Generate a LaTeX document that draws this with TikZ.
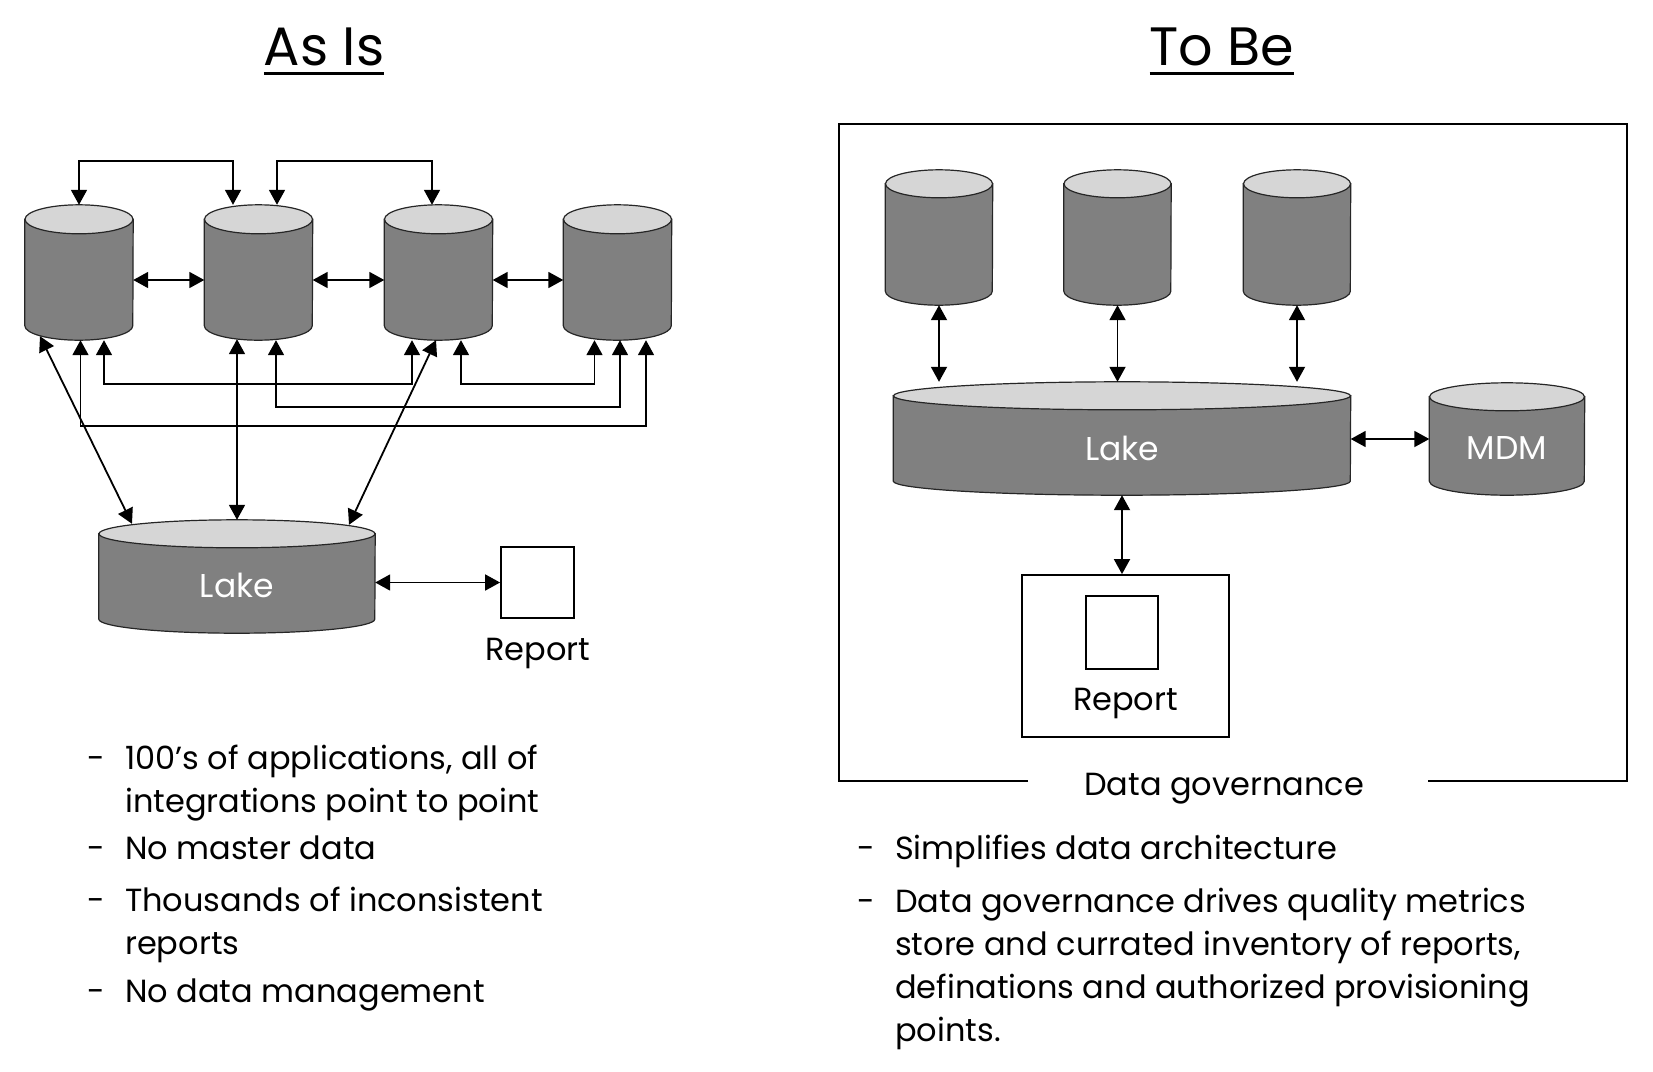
\documentclass[tikz,border=0pt]{standalone}
\usepackage{fontspec}
\setmainfont{Poppins}
\usetikzlibrary{arrows.meta,positioning,calc,backgrounds}
\definecolor{dbbody}{HTML}{808080}
\definecolor{dbtop}{HTML}{D6D6D6}
\tikzset{
  arr/.style={{Triangle[length=15pt,width=16pt]}-{Triangle[length=15pt,width=16pt]},line width=1.8pt},
  db/.style={rectangle,inner sep=0pt,minimum width=108pt,minimum height=135pt},
  dbline/.style={draw=black!85,line width=1.2pt},
  lbl/.style={text=white,font=\fontsize{33}{38}\selectfont},
  sq/.style={rectangle,draw,line width=1.8pt,inner sep=0pt},
  txt/.style={font=\fontsize{32}{43}\selectfont,inner sep=0pt,align=left,anchor=base west},
  ttl/.style={font=\fontsize{54}{60}\selectfont,inner sep=0pt,anchor=base},
}
\newcommand\ulttl[1]{\setbox0\hbox{#1}\rlap{\rule[-9.5pt]{\wd0}{2.5pt}}\box0}
\newcommand\bdash{\llap{-\hspace{20pt}}}
% cylinder drawn on a named node: name, half width, end radius
\newcommand\dbdraw[3]{%
  \filldraw[dbline,fill=dbbody] ([yshift=-#3pt]#1.north west) -- ([yshift=#3pt]#1.south west)
    arc[start angle=180,end angle=360,x radius=#2pt,y radius=#3pt]
    -- ([yshift=-#3pt]#1.north east) -- cycle;
  \filldraw[dbline,fill=dbtop] ([yshift=-#3pt]#1.north) ellipse[x radius=#2pt,y radius=#3pt];
}

\begin{document}
\begin{tikzpicture}[x=1pt,y=-1pt]
\useasboundingbox (0,0) rectangle (1653,1071);

% titles
\node[ttl] (asis) at (324,65) {\ulttl{As Is}};
\node[ttl] (tobe) at (1222,65) {\ulttl{To Be}};

% ---- as is
\foreach \i/\x in {1/79,2/258.5,3/438.5,4/617.5}
  \node[db] (a\i) at (\x,272.5) {};
\node[db,minimum width=276pt,minimum height=113pt,
  label={[lbl,yshift=-9pt]center:Lake}] (lk) at (237,576.5) {};
\node[sq,minimum width=73pt,minimum height=71pt] (rp1) at (537.5,582.5) {};
\node[txt,anchor=base] (rp1t) at (538,660) {Report};

\draw[arr] (a1.north) -- ++(0,-44) -| ([xshift=-25.5pt]a2.north);
\draw[arr] ([xshift=18.5pt]a2.north) -- ++(0,-44) -| ([xshift=-6.5pt]a3.north);
\foreach \i/\j in {1/2,2/3,3/4}
  \draw[arr] (a\i.east |- 0,280) -- (a\j.west |- 0,280);

\draw[arr] ([xshift=25pt]a1.south) -- ++(0,44) -| ([xshift=-26.5pt]a3.south);
\draw[arr] ([xshift=22.5pt]a3.south) -- ++(0,44) -| ([xshift=-23pt]a4.south);
\draw[arr] ([xshift=17.5pt]a2.south) -- ++(0,67) -| ([xshift=2.5pt]a4.south);
\draw[arr] ([xshift=1.5pt]a1.south) -- ++(0,86) -| ([xshift=28.5pt]a4.south);

\draw[arr] ([xshift=-39pt,yshift=4pt]a1.south) -- ([xshift=-105pt,yshift=-4pt]lk.north);
\draw[arr] ([xshift=-21.5pt,yshift=1pt]a2.south) -- (lk.north);
\draw[arr] ([xshift=-2.5pt]a3.south) -- ([xshift=112pt,yshift=-5pt]lk.north);
\draw[arr] (lk.east |- rp1.west) -- (rp1.west);

\node[txt] (b1) at (125,812) {\bdash 100’s of applications, all of\\integrations point to point};
\node[txt] (b2) at (125,859) {\bdash No master data};
\node[txt] (b3) at (125,954) {\bdash Thousands of inconsistent\\reports};
\node[txt] (b4) at (125,1002) {\bdash No data management};

% ---- to be
\draw[line width=1.8pt] (1028,781) -| (839,124) -| (1627,781) -- (1428,781);
\node[txt,anchor=base] (gov) at (1224,795) {Data governance};

\node[db,minimum width=107pt] (rA) at (939,237.5) {};
\node[db,minimum width=107pt] (rB) at (1117.5,237.5) {};
\node[db,minimum width=107pt] (rC) at (1297,237.5) {};
\node[db,minimum width=457pt,minimum height=113pt,
  label={[lbl,yshift=-10pt]center:Lake}] (lk2) at (1122,438.5) {};
\node[db,minimum width=155pt,minimum height=112pt,
  label={[lbl,yshift=-9pt]center:MDM}] (mdm) at (1507,439) {};
\node[sq,minimum width=207pt,minimum height=162pt] (rbox) at (1125.5,656) {};
\node[sq,minimum width=72pt,minimum height=73pt] (rp2) at (1122,632.5) {};
\node[txt,anchor=base] (rp2t) at (1125.5,710) {Report};

\foreach \n in {rA,rB,rC}
  \draw[arr] (\n.south) -- (\n.south |- lk2.north);
\draw[arr] (lk2.east |- mdm.west) -- (mdm.west);
\draw[arr] (lk2.south) -- (lk2.south |- rbox.north);

\node[txt] (r1) at (895,859) {\bdash Simplifies data architecture};
\node[txt] (r2) at (895,1041) {\bdash Data governance drives quality metrics\\store and currated inventory of reports,\\definations and authorized provisioning\\points.};

\begin{scope}[on background layer]
  \foreach \n/\hw/\ry in {a1/54/14.5,a2/54/14.5,a3/54/14.5,a4/54/14.5,
      rA/53.5/14,rB/53.5/14,rC/53.5/14,lk/138/14,lk2/228.5/14,mdm/77.5/14}
    {\dbdraw{\n}{\hw}{\ry}}
\end{scope}
\end{tikzpicture}
\end{document}
